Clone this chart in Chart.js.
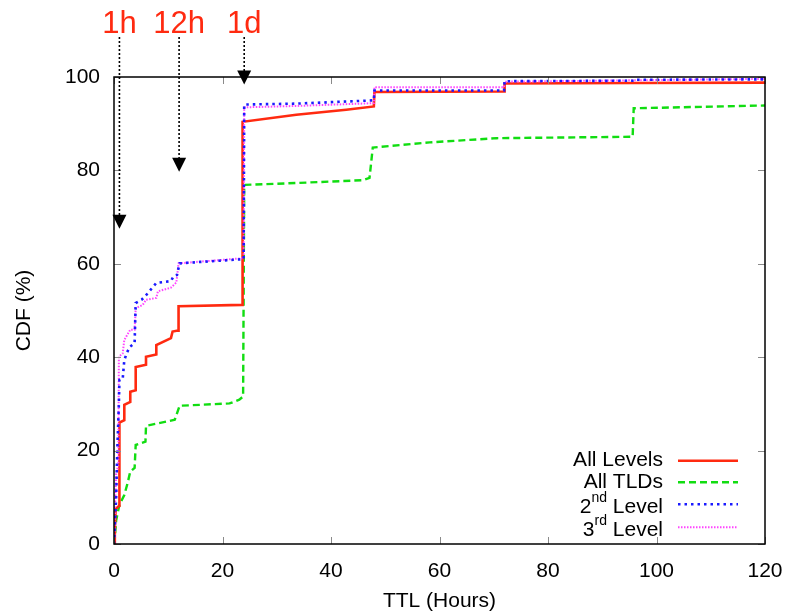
<!DOCTYPE html>
<html>
<head>
<meta charset="utf-8">
<script src="https://cdn.jsdelivr.net/npm/chart.js@4/dist/chart.umd.min.js"></script>
<style>
  html, body { margin: 0; padding: 0; background: #fff; }
  canvas { display: block; }
</style>
</head>
<body>
<canvas id="cdf" width="789" height="611"></canvas>
<script>
// TTL in hours vs CDF (%)
const allLevelsHours = [0, 0.15, 0.3, 0.95, 1.0, 1.9, 1.9, 3.0, 3.0, 4.0, 4.0, 5.9, 5.9, 7.8, 7.8, 10.5, 10.8, 11.8, 11.9, 23.6, 23.7, 33.6, 42.8, 47.9, 48.0, 71.9, 72.0, 96.0, 120];
const allLevelsCdf   = [0, 3, 7.5, 8.2, 26.0, 26.5, 29.8, 30.4, 32.6, 32.9, 37.9, 38.4, 40.1, 40.6, 42.6, 44.1, 45.5, 45.7, 50.9, 51.2, 90.4, 91.9, 93.0, 93.7, 96.8, 96.9, 98.6, 98.7, 98.8];

const allTldsHours = [0, 0.1, 0.4, 1.0, 1.9, 2.5, 3.0, 3.8, 4.0, 5.8, 5.9, 11.2, 12.1, 21.3, 23.1, 23.8, 24.0, 33.6, 45.9, 47.1, 47.7, 58.2, 70.5, 95.6, 95.8, 120];
const allTldsCdf   = [0, 0.5, 5.1, 8.4, 10.5, 13.0, 15.5, 16.3, 21.2, 21.9, 25.3, 26.6, 29.6, 30.1, 30.9, 31.6, 76.9, 77.3, 77.9, 78.4, 84.9, 86.0, 86.9, 87.2, 93.3, 93.9];

const secondHours = [0, 0.2, 0.4, 0.6, 0.9, 1.0, 1.6, 1.9, 2.4, 2.9, 3.8, 4.0, 5.1, 6.0, 7.8, 10.5, 11.0, 11.6, 12.1, 23.9, 24.0, 33.6, 47.9, 48.0, 71.9, 72.0, 96.2, 96.3, 120];
const secondCdf   = [0, 5, 10, 20, 30, 35.1, 35.3, 39.4, 41.0, 42.2, 43.0, 51.6, 52.3, 53.4, 55.9, 56.3, 57.4, 57.6, 60.1, 61.0, 94.1, 94.3, 95.0, 97.1, 97.1, 99.1, 99.2, 99.4, 99.5];

const thirdHours = [0, 0.2, 0.4, 0.8, 0.9, 1.6, 1.9, 3.0, 3.8, 4.0, 5.3, 5.9, 7.8, 8.1, 10.5, 11.5, 11.9, 23.9, 24.0, 33.6, 47.9, 48.0, 71.9, 72.0, 96.3, 120];
const thirdCdf   = [0, 8, 15, 17, 40.1, 40.8, 43.7, 45.9, 45.9, 50.5, 51.2, 52.3, 52.7, 54.1, 54.9, 56.0, 60.1, 61.2, 93.5, 93.8, 94.4, 97.8, 97.8, 99.0, 99.3, 99.6];

const seriesNames = ["All Levels", "All TLDs", "2nd Level", "3rd Level"];
const xTicks = [0, 20, 40, 60, 80, 100, 120];
const yTicks = [0, 20, 40, 60, 80, 100];

// arrows marking 1h / 12h / 1d
const markHours = [1, 12, 24];
const markTips = [67.5, 79.7, 98.4];
const markLabels = ["1h", "12h", "1d"];

const colors = ["#ff2a10", "#11dd11", "#1a1aff", "#ff44ff"];
const dashes = [[], [7, 4], [2.5, 4], [1.5, 1.5]];
const widths = [2.6, 2.4, 2.6, 2];
const FONT = "Liberation Sans";

function pts(xs, ys) {
  return xs.map((x, i) => ({ x: x, y: ys[i] }));
}

const datasets = [
  [allLevelsHours, allLevelsCdf],
  [allTldsHours, allTldsCdf],
  [secondHours, secondCdf],
  [thirdHours, thirdCdf]
].map((s, i) => ({
  label: seriesNames[i],
  data: pts(s[0], s[1]),
  borderColor: colors[i],
  borderWidth: widths[i],
  borderDash: dashes[i],
  pointRadius: 0,
  tension: 0,
  fill: false,
  order: [2, 3, 0, 1][i]
}));

const decorations = {
  id: "decorations",
  afterDatasetsDraw(chart) {
    const ctx = chart.ctx;
    const a = chart.chartArea;
    const xs = chart.scales.x, ys = chart.scales.y;
    ctx.save();

    // inward ticks on all four sides
    ctx.strokeStyle = "#8a8a8a";
    ctx.lineWidth = 1;
    ctx.setLineDash([]);
    ctx.beginPath();
    xTicks.forEach(t => {
      const px = Math.round(xs.getPixelForValue(t)) + 0.5;
      ctx.moveTo(px, a.bottom); ctx.lineTo(px, a.bottom - 7);
      ctx.moveTo(px, a.top); ctx.lineTo(px, a.top + 7);
    });
    yTicks.forEach(t => {
      const py = Math.round(ys.getPixelForValue(t)) + 0.5;
      ctx.moveTo(a.left, py); ctx.lineTo(a.left + 7, py);
      ctx.moveTo(a.right, py); ctx.lineTo(a.right - 7, py);
    });
    ctx.stroke();

    // frame
    ctx.strokeStyle = "#000";
    ctx.lineWidth = 1.5;
    ctx.strokeRect(a.left, a.top, a.right - a.left, a.bottom - a.top);

    // legend
    const textRight = 663, lineL = 678, lineR = 738;
    const rowY = [460.7, 482.3, 504.3, 527.3];
    ctx.fillStyle = "#000";
    ctx.textBaseline = "middle";
    ctx.textAlign = "right";
    rowY.forEach((y, i) => {
      const ds = chart.data.datasets[i];
      ctx.font = "21px '" + FONT + "'";
      if (i < 2) {
        ctx.fillText(ds.label, textRight, y);
      } else {
        const ty = y + 3;
        const parts = ds.label.split(" ");
        const num = parts[0].slice(0, 1), sup = parts[0].slice(1);
        const rest = " " + parts[1];
        ctx.fillText(rest, textRight, ty);
        let x = textRight - ctx.measureText(rest).width;
        ctx.font = "14px '" + FONT + "'";
        ctx.fillText(sup, x, ty - 9);
        x -= ctx.measureText(sup).width;
        ctx.font = "21px '" + FONT + "'";
        ctx.fillText(num, x, ty);
      }
      ctx.strokeStyle = ds.borderColor;
      ctx.lineWidth = ds.borderWidth;
      ctx.setLineDash(ds.borderDash);
      ctx.beginPath();
      ctx.moveTo(lineL, y);
      ctx.lineTo(lineR, y);
      ctx.stroke();
    });

    // arrows with labels above the plot
    markHours.forEach((h, i) => {
      const px = xs.getPixelForValue(h);
      const tip = ys.getPixelForValue(markTips[i]);
      ctx.strokeStyle = "#000";
      ctx.lineWidth = 1.6;
      ctx.setLineDash([2, 2]);
      ctx.beginPath();
      ctx.moveTo(px, 37);
      ctx.lineTo(px, tip - 13);
      ctx.stroke();
      ctx.setLineDash([]);
      ctx.fillStyle = "#000";
      ctx.beginPath();
      ctx.moveTo(px - 7, tip - 14);
      ctx.lineTo(px + 7, tip - 14);
      ctx.lineTo(px, tip);
      ctx.closePath();
      ctx.fill();
      ctx.fillStyle = "#ff2a10";
      ctx.font = "31px '" + FONT + "'";
      ctx.textAlign = "center";
      ctx.textBaseline = "alphabetic";
      ctx.fillText(markLabels[i], px, 33);
    });
    ctx.restore();
  }
};

new Chart(document.getElementById("cdf"), {
  type: "line",
  data: { datasets: datasets },
  options: {
    responsive: false,
    animation: false,
    devicePixelRatio: 1,
    layout: { padding: { left: 0, top: 77, right: 24, bottom: 0 } },
    plugins: { legend: { display: false }, tooltip: { enabled: false } },
    scales: {
      x: {
        type: "linear",
        min: 0,
        max: 120,
        grid: { display: false, drawTicks: false },
        border: { display: false },
        ticks: {
          stepSize: 20,
          padding: 15,
          color: "#000",
          font: { family: FONT, size: 21 },
          maxRotation: 0
        },
        title: {
          display: true,
          text: "TTL (Hours)",
          color: "#000",
          font: { family: FONT, size: 21 },
          padding: { top: 0, bottom: -3 }
        },
        afterFit(scale) {
          scale.height = 67;
          scale.paddingLeft = 0;
          scale.paddingRight = 0;
        }
      },
      y: {
        min: 0,
        max: 100,
        grid: { display: false, drawTicks: false },
        border: { display: false },
        ticks: {
          stepSize: 20,
          padding: 14,
          color: "#000",
          font: { family: FONT, size: 21 }
        },
        title: {
          display: true,
          text: "CDF (%)",
          color: "#000",
          font: { family: FONT, size: 21 },
          padding: { top: 12, bottom: 0 }
        },
        afterFit(scale) {
          scale.width = 114;
          scale.paddingTop = 0;
          scale.paddingBottom = 0;
        }
      }
    }
  },
  plugins: [decorations]
});
</script>
</body>
</html>
